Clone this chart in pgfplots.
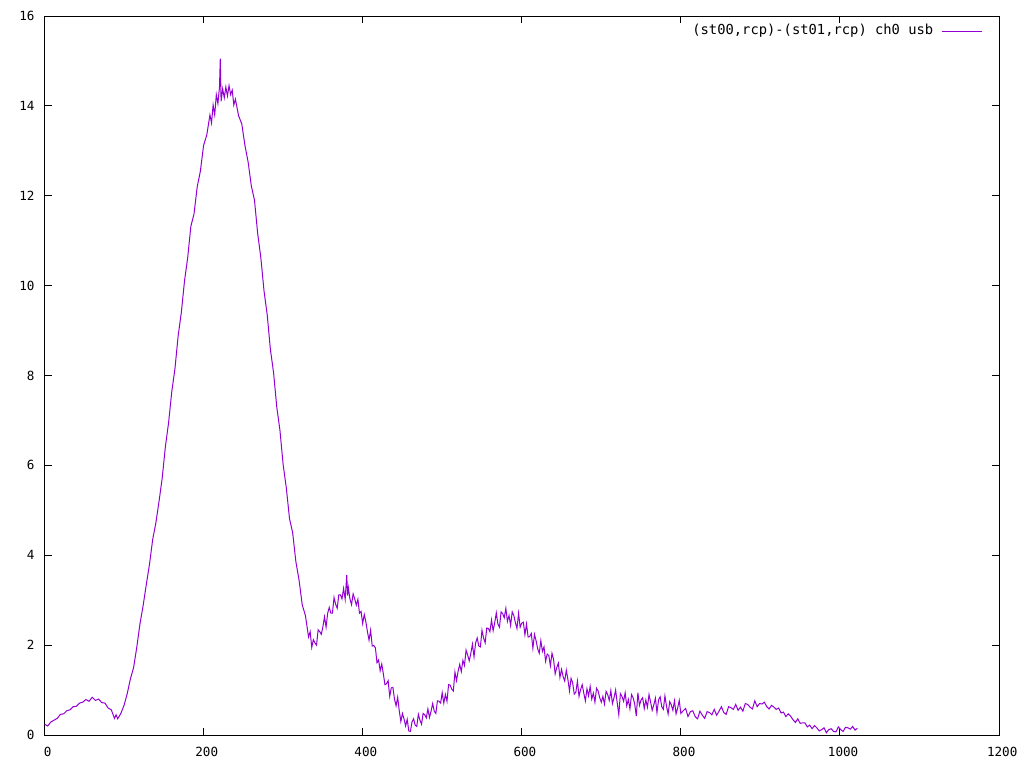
\documentclass[border=0pt]{standalone}
\usepackage{fontspec}
\setmainfont{DejaVu Sans Mono}
\usepackage{pgfplots}
\pgfplotsset{compat=1.18}
\definecolor{gpviolet}{RGB}{148,0,211}

\begin{document}
\begin{tikzpicture}
\path[use as bounding box] (0,0) rectangle (512pt,384pt);
\begin{axis}[
  at={(22.25pt,16.5pt)}, anchor=south west,
  scale only axis, width=477.25pt, height=359.5pt,
  xmin=0, xmax=1200, ymin=0, ymax=16,
  xtick={0,200,...,1200}, ytick={0,2,...,16},
  axis line style={line width=0.5pt},
  every tick/.style={black, line width=0.5pt},
  major tick length=3.5pt,
  tick align=inside,
  /pgf/number format/assume math mode=true,
  /pgf/number format/1000 sep={},
  tick label style={font=\fontsize{6.3}{7}\selectfont},
  yticklabel style={anchor=east, inner sep=0pt, xshift=-4.8pt},
  xticklabel style={anchor=north, inner sep=0pt, yshift=-5.8pt, xshift=1.6pt},
  legend plot pos=right,
  legend style={draw=none, fill=none, at={(rel axis cs:1,1)}, anchor=east,
    xshift=-8.15pt, yshift=-7.5pt, inner sep=0pt, column sep=4pt,
    nodes={inner sep=0pt}, font=\fontsize{6.9}{8}\selectfont},
  legend image code/.code={\draw[#1] (0pt,0pt) -- (20pt,0pt);},
]
\addplot[color=gpviolet, line width=0.5pt] coordinates {
(0,0.24) (4,0.20) (8,0.29) (12,0.33) (16,0.37) (20,0.46) (24,0.47) (28,0.54)
(32,0.56) (36,0.63) (40,0.64) (44,0.71) (48,0.73) (52,0.79) (56,0.75) (60,0.84)
(64,0.77) (68,0.80) (72,0.72) (76,0.71) (80,0.60) (84,0.56) (88,0.37) (90,0.45)
(92,0.36) (96,0.48) (100,0.66) (104,0.92) (108,1.25) (112,1.50) (116,1.95) (120,2.47)
(124,2.88) (128,3.35) (132,3.80) (136,4.35) (140,4.72) (144,5.20) (148,5.72) (152,6.42)
(156,6.95) (160,7.64) (164,8.15) (168,8.88) (172,9.40) (176,10.10) (180,10.62) (184,11.32)
(188,11.60) (192,12.20) (196,12.55) (200,13.12) (204,13.35) (208,13.80) (210,13.62) (212,14.02)
(214,13.80) (216,14.25) (218,14.05) (220,14.42) (221,15.05) (222,14.10) (224,14.38) (226,14.18)
(228,14.42) (230,14.22) (232,14.45) (234,14.25) (236,14.35) (238,14.02) (240,14.15) (244,13.78)
(248,13.60) (252,13.12) (256,12.75) (260,12.22) (264,11.90) (268,11.16) (272,10.62) (276,9.88)
(280,9.35) (284,8.58) (288,8.06) (292,7.30) (296,6.78) (300,6.02) (304,5.50) (308,4.82)
(312,4.50) (316,3.86) (320,3.45) (324,2.90) (328,2.66) (332,2.18) (334,2.30) (336,1.95)
(338,2.12) (340,2.05) (342,2.00) (344,2.34) (346,2.30) (348,2.24) (350,2.41) (352,2.63)
(354,2.40) (356,2.71) (358,2.84) (360,2.71) (362,2.71) (364,3.06) (366,2.91) (368,2.82)
(370,3.12) (372,3.12) (374,3.03) (376,3.26) (378,3.02) (380,3.56) (381,3.10) (382,3.28)
(384,3.03) (386,2.90) (388,3.14) (390,3.03) (392,2.89) (394,3.02) (396,2.71) (398,2.75)
(400,2.48) (402,2.68) (404,2.52) (406,2.30) (408,2.11) (410,2.33) (412,1.98) (414,1.99)
(416,1.94) (418,1.61) (420,1.67) (422,1.43) (424,1.58) (426,1.36) (428,1.12) (430,1.14)
(432,1.21) (434,0.86) (436,1.05) (438,1.06) (440,0.80) (442,0.65) (444,0.84) (446,0.54)
(448,0.30) (450,0.48) (452,0.36) (454,0.20) (456,0.35) (458,0.09) (460,0.08) (462,0.29)
(464,0.36) (466,0.22) (468,0.19) (470,0.46) (472,0.33) (474,0.24) (476,0.48) (478,0.45)
(480,0.38) (482,0.58) (484,0.39) (486,0.53) (488,0.70) (490,0.53) (492,0.48) (494,0.76)
(496,0.75) (498,0.71) (500,0.94) (502,0.71) (504,0.90) (506,0.75) (508,1.12) (510,1.11)
(512,1.02) (514,0.98) (516,1.40) (518,1.21) (520,1.42) (522,1.57) (524,1.41) (526,1.66)
(528,1.55) (530,1.89) (532,1.78) (534,1.65) (536,1.82) (538,2.02) (540,1.74) (542,2.05)
(544,2.16) (546,1.98) (548,1.96) (550,2.33) (552,2.16) (554,2.05) (556,2.38) (558,2.37)
(560,2.30) (562,2.56) (564,2.32) (566,2.50) (568,2.72) (570,2.47) (572,2.40) (574,2.74)
(576,2.70) (578,2.61) (580,2.82) (582,2.53) (584,2.66) (586,2.44) (588,2.74) (590,2.66)
(592,2.50) (594,2.37) (596,2.71) (598,2.40) (600,2.49) (602,2.51) (604,2.23) (606,2.47)
(608,2.18) (610,2.19) (612,2.26) (614,1.93) (616,2.24) (618,2.10) (620,1.92) (622,1.82)
(624,2.10) (626,1.86) (628,1.96) (630,1.64) (632,1.80) (634,1.77) (636,1.54) (638,1.82)
(640,1.68) (642,1.36) (644,1.50) (646,1.60) (648,1.28) (650,1.46) (652,1.30) (654,1.20)
(656,1.44) (658,1.24) (660,0.98) (662,1.26) (664,1.16) (666,0.91) (668,0.95) (670,1.20)
(672,0.86) (674,1.01) (676,1.12) (678,0.93) (680,0.76) (682,1.03) (684,0.87) (686,1.08)
(688,0.80) (690,0.93) (692,0.73) (694,1.04) (696,0.98) (698,0.83) (700,0.73) (702,0.86)
(704,0.69) (706,0.97) (708,0.90) (710,0.77) (712,0.99) (714,0.70) (716,0.83) (718,1.00)
(720,0.72) (722,0.45) (724,0.92) (726,0.86) (728,0.75) (730,0.94) (732,0.65) (734,0.79)
(736,0.58) (738,0.90) (740,0.83) (742,0.69) (744,0.42) (746,0.94) (748,0.66) (750,0.78)
(752,0.83) (754,0.59) (756,0.78) (758,0.62) (760,0.90) (762,0.73) (764,0.55) (766,0.67)
(768,0.82) (770,0.50) (772,0.78) (774,0.85) (776,0.63) (778,0.57) (780,0.87) (782,0.64)
(784,0.47) (786,0.74) (788,0.67) (790,0.55) (792,0.76) (794,0.47) (796,0.60) (798,0.77)
(800,0.48) (803,0.54) (806,0.59) (809,0.41) (812,0.52) (815,0.54) (818,0.41) (821,0.36)
(824,0.53) (827,0.44) (830,0.37) (833,0.52) (836,0.50) (839,0.45) (842,0.57) (845,0.44)
(848,0.53) (851,0.63) (854,0.50) (857,0.46) (860,0.63) (863,0.61) (866,0.57) (869,0.68)
(872,0.55) (875,0.62) (878,0.53) (881,0.70) (884,0.68) (887,0.62) (890,0.58) (893,0.76)
(896,0.63) (899,0.70) (902,0.69) (905,0.73) (908,0.63) (911,0.58) (914,0.66) (917,0.62)
(920,0.57) (923,0.60) (926,0.49) (929,0.51) (932,0.41) (935,0.47) (938,0.42) (941,0.34)
(944,0.28) (947,0.36) (950,0.26) (953,0.27) (956,0.27) (959,0.18) (962,0.22) (965,0.14)
(968,0.21) (971,0.16) (974,0.09) (977,0.12) (980,0.16) (983,0.05) (986,0.12) (989,0.14)
(992,0.08) (995,0.07) (998,0.18) (1001,0.12) (1004,0.08) (1007,0.17) (1010,0.16) (1013,0.13)
(1016,0.19) (1019,0.11) (1022,0.15)
};
\addlegendentry{(st00,rcp)-(st01,rcp) ch0 usb}
\end{axis}
\end{tikzpicture}
\end{document}
